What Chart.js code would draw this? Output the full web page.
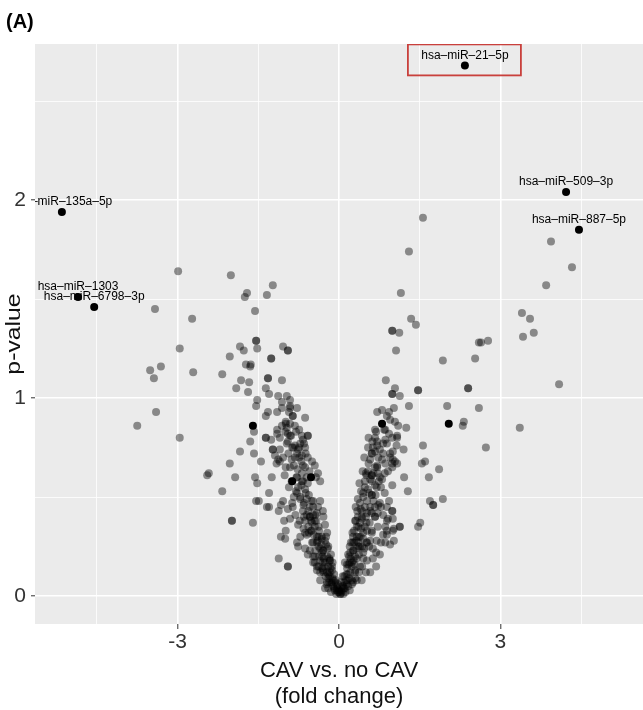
<!DOCTYPE html>
<html>
<head>
<meta charset="UTF-8">
<title>Volcano plot</title>
<script src="https://cdn.jsdelivr.net/npm/chart.js"></script>
<style>
  body { margin: 0; background: #ffffff; }
  canvas { display: block; }
</style>
</head>
<body>
<canvas id="volcano" width="643" height="710"></canvas>
<script>
// fold change (x) / p-value (y) pairs, grouped by region
var leftFar = [[-2.99,1.64],[-3.42,1.45],[-2.73,1.40],[-2.96,1.25],[-3.31,1.16],[-3.51,1.14],[-3.44,1.10],[-2.71,1.13],[-3.40,0.93],[-3.75,0.86],[-2.96,0.80]];
var leftUpper = [[-2.01,1.62],[-1.23,1.57],[-1.71,1.53],[-1.75,1.51],[-1.34,1.52],[-1.56,1.44],[-1.54,1.29],[-1.54,1.29],[-1.84,1.26],[-1.77,1.24],[-1.52,1.25],[-1.04,1.26],[-0.95,1.24],[-0.95,1.24],[-2.03,1.21],[-1.26,1.20],[-1.26,1.20],[-1.73,1.17],[-1.64,1.17],[-1.65,1.16],[-2.17,1.12],[-1.82,1.09],[-1.67,1.08],[-1.32,1.10],[-1.32,1.10],[-1.06,1.09],[-1.91,1.05],[-1.69,1.03],[-1.36,1.05],[-1.30,1.02],[-1.13,1.01],[-0.97,1.01],[-0.91,0.99],[-1.52,0.99],[-1.06,0.98],[-1.54,0.96],[-1.06,0.95],[-0.91,0.96],[-0.78,0.95],[-1.32,0.93],[-1.36,0.91],[-0.93,0.93],[-0.86,0.91],[-0.86,0.91],[-0.63,0.90],[-0.99,0.87],[-0.91,0.87],[-1.15,0.84],[-1.15,0.93],[-0.91,0.95],[-1.06,0.86],[-0.99,0.88],[-0.97,0.85]];
var leftMid = [[-1.58,0.83],[-1.36,0.80],[-1.36,0.80],[-1.26,0.79],[-1.15,0.82],[-0.95,0.82],[-0.89,0.81],[-0.58,0.81],[-0.58,0.81],[-1.65,0.78],[-1.23,0.74],[-1.23,0.74],[-1.19,0.71],[-1.13,0.69],[-1.10,0.68],[-1.84,0.73],[-1.58,0.72],[-1.45,0.68],[-0.82,0.76],[-0.74,0.75],[-0.65,0.77],[-0.87,0.75],[-0.78,0.72],[-0.74,0.70],[-2.03,0.67],[-2.45,0.61],[-2.42,0.62],[-1.93,0.60],[-1.56,0.60],[-1.52,0.57],[-1.25,0.60],[-0.99,0.65],[-0.91,0.65],[-0.67,0.66],[-0.78,0.60],[-0.67,0.58],[-0.39,0.62],[-2.17,0.53],[-1.54,0.48],[-1.49,0.48],[-1.30,0.52],[-1.34,0.45],[-1.30,0.45],[-1.12,0.43],[-1.08,0.46],[-1.04,0.48],[-0.87,0.47],[-0.86,0.45],[-0.78,0.52],[-0.72,0.49],[-0.65,0.47],[-0.56,0.51],[-0.48,0.48],[-0.35,0.48],[-0.39,0.45],[-0.30,0.43],[-1.99,0.38],[-1.99,0.38],[-1.60,0.37],[-1.02,0.38],[-0.91,0.39],[-0.76,0.36],[-0.65,0.40],[-0.54,0.40],[-0.99,0.33],[-1.08,0.30],[-1.00,0.29],[-0.72,0.30],[-0.63,0.32],[-0.52,0.33],[-0.45,0.35],[-0.37,0.33],[-0.32,0.30],[-0.80,0.83],[-0.69,0.81],[-0.67,0.79],[-0.72,0.77],[-0.63,0.75],[-0.76,0.74],[-0.69,0.71],[-0.58,0.70],[-0.50,0.68],[-0.45,0.66],[-0.43,0.60],[-0.35,0.58],[-0.63,0.65],[-0.69,0.62],[-0.60,0.60],[-0.54,0.45],[-0.48,0.41],[-0.50,0.37],[-0.56,0.32],[-1.10,0.80],[-1.00,0.83],[-0.91,0.81],[-0.97,0.77],[-1.10,0.74],[-0.85,0.75],[-0.94,0.72],[-1.04,0.70],[-0.82,0.70],[-1.16,0.67]];
var leftArm = [[-0.79,0.60],[-0.69,0.58],[-0.76,0.55],[-0.63,0.54],[-0.72,0.50],[-0.60,0.49],[-0.51,0.48],[-0.66,0.46],[-0.57,0.43],[-0.48,0.45],[-0.41,0.42],[-0.54,0.40],[-0.63,0.38],[-0.45,0.38],[-0.38,0.35],[-0.51,0.33],[-0.60,0.31],[-0.41,0.30],[-0.32,0.29],[-0.48,0.27],[-0.38,0.25],[-0.29,0.23],[-0.54,0.23],[-0.45,0.20],[-0.35,0.18],[-0.26,0.17],[-0.20,0.15],[-0.38,0.15],[-0.29,0.12],[-0.20,0.11],[-0.14,0.06],[-0.23,0.06],[-0.84,0.66],[-0.77,0.64],[-0.70,0.68],[-0.62,0.72],[-0.55,0.63],[-0.88,0.58],[-0.80,0.53],[-0.70,0.56],[-0.62,0.52],[-0.58,0.57],[-0.67,0.43],[-0.60,0.41],[-0.52,0.38],[-0.44,0.41],[-0.57,0.35],[-0.47,0.31],[-0.40,0.28],[-0.33,0.26],[-0.44,0.23],[-0.37,0.20],[-0.28,0.19],[-0.31,0.14],[-0.25,0.10],[-0.18,0.07],[-0.26,0.04],[-0.15,0.02],[-0.82,0.86],[-0.74,0.84],[-0.95,0.78],[-0.88,0.69],[-1.01,0.61],[-0.93,0.55],[-0.84,0.50],[-0.95,0.44],[-0.81,0.41],[-0.73,0.38],[-0.66,0.34],[-0.78,0.27]];
var leftLow = [[-0.76,0.25],[-0.63,0.24],[-0.50,0.27],[-0.41,0.27],[-0.35,0.24],[-0.58,0.21],[-0.48,0.17],[-0.41,0.15],[-0.32,0.22],[-0.22,0.20],[-0.30,0.17],[-1.12,0.19],[-0.95,0.15],[-0.95,0.15],[-0.30,0.13],[-0.22,0.12],[-0.20,0.09],[-0.22,0.07],[-0.20,0.04],[-0.35,0.08],[-0.22,0.32],[-0.26,0.28],[-0.20,0.25],[-0.30,0.23],[-0.17,0.18],[-0.13,0.13],[-0.17,0.10],[-0.11,0.08],[-0.07,0.07],[-0.04,0.05],[-0.02,0.02],[0.02,0.01],[-0.45,0.17],[-0.41,0.13],[-0.35,0.12],[-0.48,0.20],[-0.17,0.18],[-0.13,0.15],[-0.17,0.12],[-0.11,0.05],[-0.04,0.03],[-0.26,0.36],[-0.29,0.40],[-0.24,0.26],[-0.15,0.21],[-0.12,0.17],[-0.09,0.11],[-0.06,0.08],[-0.03,0.04],[-0.08,0.03],[-0.14,0.07],[-0.27,0.15],[-0.31,0.20],[-0.38,0.30],[-0.42,0.38]];
var rightFar = [[1.56,1.91],[1.30,1.74],[1.15,1.53],[1.34,1.40],[1.43,1.37],[0.99,1.34],[0.99,1.34],[1.12,1.33],[1.06,1.24],[1.93,1.19],[2.53,1.20],[2.60,1.28],[0.87,1.09],[1.04,1.05],[0.99,1.02],[0.99,1.02],[1.13,1.01],[1.47,1.04],[1.47,1.04],[2.40,1.05],[2.40,1.05],[1.30,0.96],[1.02,0.95],[0.71,0.93],[0.80,0.94],[0.93,0.93],[2.01,0.96],[2.60,0.95],[0.95,0.89],[2.32,0.88],[2.30,0.86],[1.25,0.85],[0.67,0.84],[0.84,0.84],[3.85,1.57],[3.40,1.43],[3.55,1.40],[3.62,1.33],[3.42,1.31],[2.64,1.28],[2.77,1.29],[4.09,1.07],[3.36,0.85],[2.73,0.75],[3.94,1.79],[4.33,1.66],[1.04,0.88]];
var rightArm = [[0.69,0.83],[0.86,0.84],[0.93,0.82],[1.08,0.80],[1.56,0.76],[0.54,0.75],[0.63,0.75],[0.71,0.76],[0.76,0.74],[0.82,0.77],[0.61,0.72],[0.61,0.72],[0.67,0.73],[0.82,0.72],[0.95,0.72],[1.00,0.73],[0.86,0.67],[0.99,0.67],[1.04,0.68],[1.54,0.67],[1.60,0.68],[1.86,0.64],[1.67,0.60],[0.71,0.65],[0.72,0.62],[0.50,0.62],[0.54,0.63],[0.61,0.61],[0.61,0.61],[0.76,0.60],[0.80,0.59],[0.91,0.63],[1.21,0.60],[0.48,0.58],[0.58,0.59],[0.67,0.56],[0.99,0.56],[1.28,0.53],[0.41,0.53],[0.45,0.52],[0.61,0.51],[0.61,0.51],[0.35,0.49],[0.39,0.47],[0.52,0.48],[0.58,0.45],[0.67,0.45],[0.78,0.45],[1.69,0.48],[1.75,0.46],[1.75,0.46],[1.93,0.49],[0.99,0.43],[0.43,0.43],[0.35,0.40],[0.43,0.39],[0.50,0.40],[0.61,0.42],[0.67,0.40],[0.89,0.38],[0.86,0.35],[1.02,0.34],[1.13,0.35],[1.47,0.35],[1.51,0.37],[0.33,0.35],[0.41,0.34],[0.48,0.35],[0.52,0.33],[0.61,0.32],[0.26,0.30],[0.32,0.28],[0.37,0.30],[0.45,0.29],[0.52,0.27],[0.89,0.31],[1.02,0.28],[0.95,0.26],[0.78,0.27],[0.86,0.27],[0.67,0.80],[0.71,0.78],[0.86,0.79],[0.89,0.77],[0.99,0.80],[1.08,0.81],[1.08,0.67],[1.00,0.69],[0.99,0.65],[0.80,0.69],[0.71,0.66],[0.76,0.47],[0.89,0.45],[0.99,0.43],[0.82,0.41],[0.91,0.39],[1.00,0.39],[1.13,0.35],[1.00,0.33],[0.89,0.33],[0.89,0.91],[1.10,0.86],[0.73,0.70],[0.95,0.70],[1.07,0.76],[1.20,0.74]];
var rightInner = [[0.58,0.69],[0.67,0.65],[0.51,0.61],[0.61,0.58],[0.70,0.55],[0.54,0.54],[0.45,0.50],[0.64,0.48],[0.73,0.46],[0.48,0.45],[0.58,0.43],[0.42,0.40],[0.67,0.40],[0.51,0.37],[0.36,0.35],[0.61,0.33],[0.45,0.32],[0.33,0.30],[0.51,0.27],[0.39,0.25],[0.27,0.23],[0.45,0.22],[0.33,0.19],[0.24,0.17],[0.39,0.15],[0.30,0.12],[0.17,0.11],[0.24,0.08],[0.14,0.06],[0.11,0.04],[0.55,0.80],[0.62,0.78],[0.47,0.70],[0.55,0.67],[0.64,0.62],[0.74,0.58],[0.85,0.62],[0.44,0.63],[0.38,0.57],[0.48,0.55],[0.56,0.52],[0.68,0.51],[0.85,0.52],[0.31,0.45],[0.40,0.44],[0.52,0.42],[0.72,0.42],[0.30,0.38],[0.39,0.37],[0.57,0.37],[0.72,0.35],[0.28,0.27],[0.36,0.25],[0.47,0.24],[0.58,0.28],[0.20,0.17],[0.29,0.16],[0.43,0.15],[0.50,0.12],[0.16,0.08],[0.30,0.09],[0.42,0.08],[0.08,0.01],[0.20,0.03],[0.78,0.55],[0.93,0.48],[0.82,0.31],[0.70,0.28],[0.63,0.19]];
var rightLow = [[0.20,0.25],[0.26,0.23],[0.33,0.24],[0.43,0.25],[0.56,0.25],[0.63,0.24],[0.69,0.22],[0.76,0.21],[0.17,0.21],[0.22,0.19],[0.30,0.20],[0.37,0.21],[0.45,0.19],[0.52,0.18],[0.69,0.15],[0.58,0.12],[0.11,0.17],[0.15,0.14],[0.24,0.15],[0.30,0.13],[0.37,0.12],[0.07,0.10],[0.13,0.08],[0.19,0.09],[0.26,0.07],[0.33,0.08],[0.06,0.05],[0.09,0.04],[0.17,0.05],[0.24,0.06],[0.00,0.02],[0.03,0.01],[0.05,0.03],[0.10,0.07],[0.14,0.11],[0.18,0.16],[0.21,0.22],[0.25,0.27],[0.28,0.33],[0.31,0.38],[0.34,0.43],[0.12,0.02],[0.21,0.12],[0.27,0.18],[0.36,0.27],[0.40,0.30]];
var core = [[-0.05,0.01],[0.05,0.02],[-0.09,0.04],[0.08,0.05],[-0.12,0.09],[0.10,0.10],[0.00,0.03],[-0.02,0.06],[0.03,0.07],[-0.16,0.14],[0.15,0.16],[-0.18,0.19],[0.19,0.20],[-0.21,0.24],[0.22,0.27],[-0.24,0.30],[0.25,0.32]];

// labelled / highlighted miRNAs
var labelNames = ['hsa–miR–21–5p', 'hsa–miR–509–3p', 'hsa–miR–887–5p', 'hsa–miR–135a–5p', 'hsa–miR–1303', 'hsa–miR–6798–3p'];
var labelFC = [2.34, 4.22, 4.46, -5.15, -4.85, -4.55];
var labelP = [2.68, 2.04, 1.85, 1.94, 1.51, 1.46];
var darkFC = [-1.60, 0.80, 2.04, -0.87, -0.52];
var darkP = [0.86, 0.87, 0.87, 0.58, 0.60];

// axis breaks
var xGrid = [-4.5, -3, -1.5, 0, 1.5, 3, 4.5];
var xLabels = [-3, 0, 3];
var yGrid = [0, 0.5, 1, 1.5, 2, 2.5];
var yLabels = [0, 1, 2];

function toPoints(list) {
  return list.map(function (p) { return { x: p[0], y: p[1] }; });
}
var grayPoints = toPoints([].concat(leftFar, leftUpper, leftMid, leftArm, leftLow, rightFar, rightArm, rightInner, rightLow, core));
var blackPoints = labelFC.map(function (v, i) { return { x: v, y: labelP[i] }; })
  .concat(darkFC.map(function (v, i) { return { x: v, y: darkP[i] }; }));

var FONT = "'Liberation Sans', Arial, sans-serif";

// grey ggplot panel behind the grid
var panelBg = {
  id: 'panelBg',
  beforeDraw: function (chart) {
    var a = chart.chartArea, ctx = chart.ctx;
    ctx.save();
    ctx.fillStyle = '#ebebeb';
    ctx.fillRect(a.left, a.top, a.right - a.left, a.bottom - a.top);
    ctx.restore();
  }
};

// text labels, red box, y title and panel tag
var annotations = {
  id: 'annotations',
  afterDatasetsDraw: function (chart) {
    var ctx = chart.ctx, a = chart.chartArea;
    var xs = chart.scales.x, ys = chart.scales.y;
    ctx.save();
    ctx.beginPath();
    ctx.rect(a.left, a.top, a.right - a.left, a.bottom - a.top);
    ctx.clip();
    ctx.fillStyle = '#000';
    ctx.font = '12px ' + FONT;
    ctx.textAlign = 'center';
    ctx.textBaseline = 'middle';
    labelNames.forEach(function (name, i) {
      var px = xs.getPixelForValue(labelFC[i]);
      var py = ys.getPixelForValue(labelP[i]);
      ctx.fillText(name, px, py - 10);
    });
    // highlight box round miR-21-5p
    var bx = xs.getPixelForValue(labelFC[0]);
    var by = ys.getPixelForValue(labelP[0]);
    ctx.strokeStyle = '#c9403c';
    ctx.lineWidth = 1.8;
    ctx.strokeRect(bx - 57, by - 21, 113, 31);
    ctx.restore();

    // y axis title, a little stretched along its length like the original
    ctx.save();
    ctx.fillStyle = '#111111';
    ctx.font = '21px ' + FONT;
    ctx.textAlign = 'center';
    ctx.textBaseline = 'middle';
    ctx.translate(14, (a.top + a.bottom) / 2);
    ctx.rotate(-Math.PI / 2);
    ctx.scale(1.18, 1);
    ctx.fillText('p-value', 0, 0);
    ctx.restore();

    ctx.save();
    ctx.fillStyle = '#000';
    ctx.font = 'bold 20px ' + FONT;
    ctx.textAlign = 'left';
    ctx.textBaseline = 'middle';
    ctx.fillText('(A)', 6, 22);
    ctx.restore();
  }
};

new Chart(document.getElementById('volcano').getContext('2d'), {
  type: 'scatter',
  data: {
    datasets: [{
      label: 'miRNA',
      data: grayPoints,
      backgroundColor: 'rgba(0,0,0,0.42)',
      borderWidth: 0,
      pointRadius: 4
    }, {
      label: 'highlighted',
      data: blackPoints,
      backgroundColor: '#000000',
      borderWidth: 0,
      pointRadius: 4
    }]
  },
  options: {
    responsive: false,
    animation: false,
    devicePixelRatio: 1,
    layout: { autoPadding: false, padding: { top: 44, right: 0, left: 0, bottom: 0 } },
    plugins: { legend: { display: false }, tooltip: { enabled: false } },
    scales: {
      x: {
        type: 'linear',
        min: -5.65,
        max: 5.65,
        afterFit: function (s) { s.height = 86; s.paddingLeft = 0; s.paddingRight = 0; },
        afterBuildTicks: function (s) { s.ticks = xGrid.map(function (v) { return { value: v }; }); },
        border: { display: false },
        grid: {
          color: '#ffffff',
          lineWidth: function (c) { return xLabels.indexOf(c.tick && c.tick.value) >= 0 ? 1.6 : 0.8; },
          tickColor: function (c) { return xLabels.indexOf(c.tick && c.tick.value) >= 0 ? '#333333' : 'rgba(0,0,0,0)'; },
          tickLength: 5,
          tickWidth: 1
        },
        ticks: {
          autoSkip: false,
          maxRotation: 0,
          padding: 1,
          color: '#333333',
          font: { family: FONT, size: 21 },
          callback: function (v) { return xLabels.indexOf(v) >= 0 ? String(v) : ''; }
        },
        title: {
          display: true,
          text: ['CAV vs. no CAV', '(fold change)'],
          color: '#111111',
          font: { family: FONT, size: 22, lineHeight: '26px' },
          padding: { top: 0, bottom: 0 }
        }
      },
      y: {
        type: 'linear',
        min: -0.141,
        max: 2.788,
        afterFit: function (s) { s.width = 35; s.paddingTop = 0; s.paddingBottom = 0; },
        afterBuildTicks: function (s) { s.ticks = yGrid.map(function (v) { return { value: v }; }); },
        border: { display: false },
        grid: {
          color: '#ffffff',
          lineWidth: function (c) { return yLabels.indexOf(c.tick && c.tick.value) >= 0 ? 1.6 : 0.8; },
          tickColor: function (c) { return yLabels.indexOf(c.tick && c.tick.value) >= 0 ? '#333333' : 'rgba(0,0,0,0)'; },
          tickLength: 4,
          tickWidth: 1
        },
        ticks: {
          autoSkip: false,
          padding: 5,
          color: '#333333',
          font: { family: FONT, size: 21 },
          callback: function (v) { return yLabels.indexOf(v) >= 0 ? String(v) : ''; }
        },
        title: { display: false }
      }
    }
  },
  plugins: [panelBg, annotations]
});
</script>
</body>
</html>
